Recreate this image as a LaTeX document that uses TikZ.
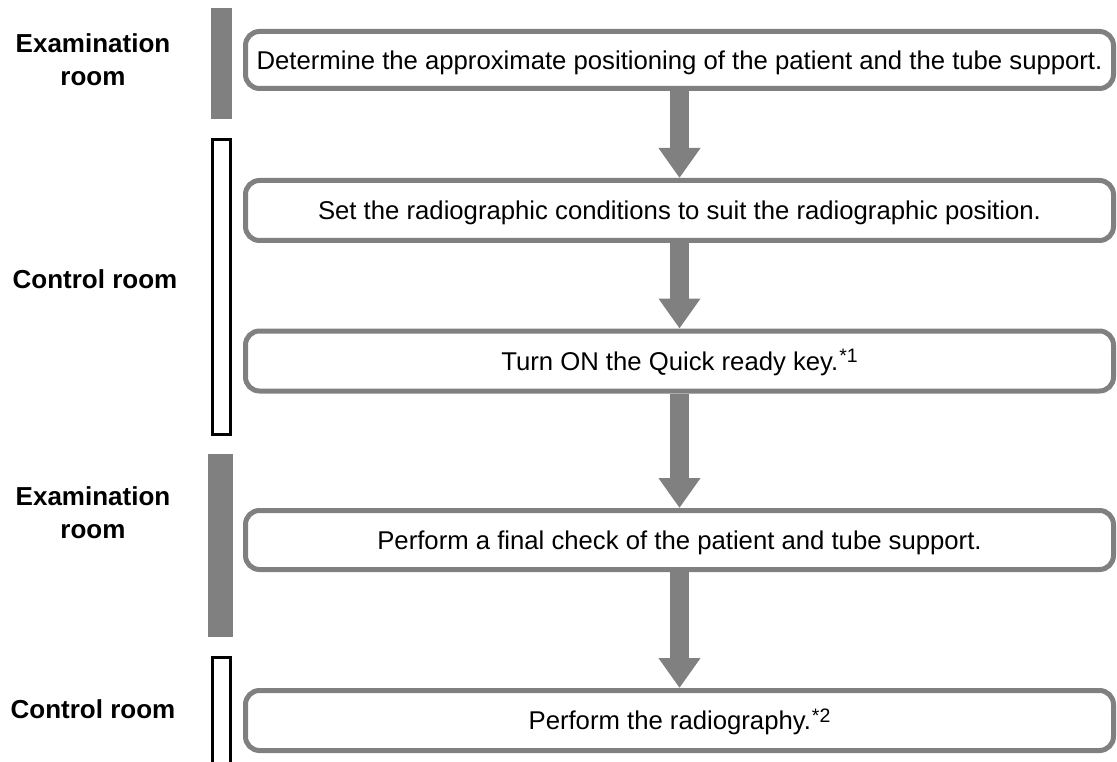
\documentclass[tikz,border=0pt]{standalone}
\usepackage{fontspec}
\setmainfont{Liberation Sans}
\usetikzlibrary{arrows.meta}
\definecolor{flowgray}{RGB}{128,128,128}
\tikzset{
  stepbox/.style={draw=flowgray, line width=5pt, rounded corners=14pt, fill=white,
    minimum width=868pt, minimum height=58pt, inner sep=0pt,
    text height=18.4pt, text depth=0pt, font=\fontsize{25.7}{30}\selectfont},
  roomlabel/.style={align=center, inner sep=0pt, font=\fontsize{26}{33}\selectfont\bfseries},
  flowarrow/.style={draw=flowgray, line width=19pt,
    -{Triangle[width=40pt,length=30pt]}},
  exambar/.style={fill=flowgray},
  ctrlbar/.style={draw=black, line width=3pt, fill=white}
}
\newcommand{\supnote}[1]{\kern1pt\raisebox{7.5pt}{\fontsize{19.5}{20}\selectfont #1}}
\begin{document}
\begin{tikzpicture}[x=1pt,y=-1pt]
\useasboundingbox (0,0) rectangle (1117,762);
% room bars
\fill[exambar] (211,8) rectangle (232,119);
\draw[ctrlbar] (212.5,139.5) rectangle (230.5,434.5);
\fill[exambar] (208,454) rectangle (233,637);
\draw[ctrlbar] (212.5,657.5) rectangle (230.5,775);
% room labels
\node[roomlabel] (l1) at (93,59.5) {Examination\\room};
\node[roomlabel] (l2) at (95,279) {Control room};
\node[roomlabel] (l3) at (93,513) {Examination\\room};
\node[roomlabel] (l4) at (93,709) {Control room};
% steps
\node[stepbox, minimum height=57pt] (b1) at (679.5,60) {Determine the approximate positioning of the patient and the tube support.};
\node[stepbox, minimum height=60pt] (b2) at (679.5,210.5) {Set the radiographic conditions to suit the radiographic position.};
\node[stepbox, minimum height=60pt] (b3) at (679.5,361) {Turn ON the Quick ready key.\supnote{*1}};
\node[stepbox, minimum height=59pt] (b4) at (679.5,540) {Perform a final check of the patient and tube support.};
\node[stepbox, minimum height=60pt] (b5) at (679.5,720.5) {Perform the radiography.\supnote{*2}};
% arrows
\draw[flowarrow] (b1.south) -- (b2.north);
\draw[flowarrow] (b2.south) -- (b3.north);
\draw[flowarrow] (b3.south) -- (b4.north);
\draw[flowarrow] (b4.south) -- (b5.north);
\end{tikzpicture}
\end{document}
